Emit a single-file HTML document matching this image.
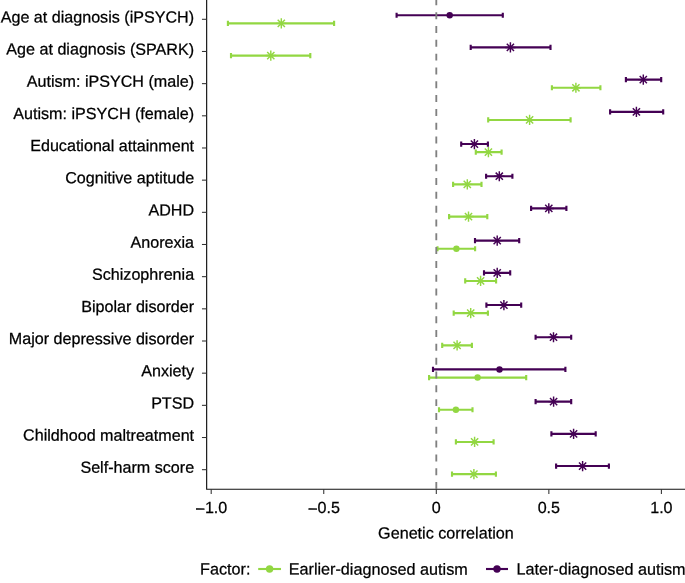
<!DOCTYPE html>
<html lang="en"><head><meta charset="utf-8"><title>Genetic correlation</title>
<style>
html,body{margin:0;padding:0;background:#fff;}
svg{display:block;will-change:transform;}
text{font-family:"Liberation Sans",Arial,Helvetica,sans-serif;font-size:16.13px;fill:#000;stroke:#000;stroke-width:0.25px;}
</style></head><body>
<svg width="685" height="583" viewBox="0 0 685 583">
<rect width="685" height="583" fill="#fff"/>
<path d="M206.65 0V489.2H685" stroke="#111" stroke-width="1.15" fill="none"/>
<line x1="201.95" x2="206.65" y1="19.30" y2="19.30" stroke="#333" stroke-width="1.07"/><text x="194.10" y="22.50" text-anchor="end" transform="rotate(0.03 194.10 22.50)">Age at diagnosis (iPSYCH)</text>
<line x1="201.95" x2="206.65" y1="51.47" y2="51.47" stroke="#333" stroke-width="1.07"/><text x="194.10" y="54.67" text-anchor="end" transform="rotate(0.03 194.10 54.67)">Age at diagnosis (SPARK)</text>
<line x1="201.95" x2="206.65" y1="83.64" y2="83.64" stroke="#333" stroke-width="1.07"/><text x="194.10" y="86.84" text-anchor="end" transform="rotate(0.03 194.10 86.84)">Autism: iPSYCH (male)</text>
<line x1="201.95" x2="206.65" y1="115.81" y2="115.81" stroke="#333" stroke-width="1.07"/><text x="194.10" y="119.01" text-anchor="end" transform="rotate(0.03 194.10 119.01)">Autism: iPSYCH (female)</text>
<line x1="201.95" x2="206.65" y1="147.98" y2="147.98" stroke="#333" stroke-width="1.07"/><text x="194.10" y="151.18" text-anchor="end" transform="rotate(0.03 194.10 151.18)">Educational attainment</text>
<line x1="201.95" x2="206.65" y1="180.15" y2="180.15" stroke="#333" stroke-width="1.07"/><text x="194.10" y="183.35" text-anchor="end" transform="rotate(0.03 194.10 183.35)">Cognitive aptitude</text>
<line x1="201.95" x2="206.65" y1="212.32" y2="212.32" stroke="#333" stroke-width="1.07"/><text x="194.10" y="215.52" text-anchor="end" transform="rotate(0.03 194.10 215.52)">ADHD</text>
<line x1="201.95" x2="206.65" y1="244.49" y2="244.49" stroke="#333" stroke-width="1.07"/><text x="194.10" y="247.69" text-anchor="end" transform="rotate(0.03 194.10 247.69)">Anorexia</text>
<line x1="201.95" x2="206.65" y1="276.66" y2="276.66" stroke="#333" stroke-width="1.07"/><text x="194.10" y="279.86" text-anchor="end" transform="rotate(0.03 194.10 279.86)">Schizophrenia</text>
<line x1="201.95" x2="206.65" y1="308.83" y2="308.83" stroke="#333" stroke-width="1.07"/><text x="194.10" y="312.03" text-anchor="end" transform="rotate(0.03 194.10 312.03)">Bipolar disorder</text>
<line x1="201.95" x2="206.65" y1="341.00" y2="341.00" stroke="#333" stroke-width="1.07"/><text x="194.10" y="344.20" text-anchor="end" transform="rotate(0.03 194.10 344.20)">Major depressive disorder</text>
<line x1="201.95" x2="206.65" y1="373.17" y2="373.17" stroke="#333" stroke-width="1.07"/><text x="194.10" y="376.37" text-anchor="end" transform="rotate(0.03 194.10 376.37)">Anxiety</text>
<line x1="201.95" x2="206.65" y1="405.34" y2="405.34" stroke="#333" stroke-width="1.07"/><text x="194.10" y="408.54" text-anchor="end" transform="rotate(0.03 194.10 408.54)">PTSD</text>
<line x1="201.95" x2="206.65" y1="437.51" y2="437.51" stroke="#333" stroke-width="1.07"/><text x="194.10" y="440.71" text-anchor="end" transform="rotate(0.03 194.10 440.71)">Childhood maltreatment</text>
<line x1="201.95" x2="206.65" y1="469.68" y2="469.68" stroke="#333" stroke-width="1.07"/><text x="194.10" y="472.88" text-anchor="end" transform="rotate(0.03 194.10 472.88)">Self-harm score</text>
<line x1="211.20" x2="211.20" y1="489.2" y2="493.9" stroke="#333" stroke-width="1.07"/><text x="211.20" y="513.10" text-anchor="middle" transform="rotate(0.03 211.20 513.10)"><tspan dx="0.6" dy="-0.45" style="font-size:14.4px;stroke-width:0.5px">–</tspan><tspan dx="0.6" dy="0.45">1.0</tspan></text>
<line x1="323.75" x2="323.75" y1="489.2" y2="493.9" stroke="#333" stroke-width="1.07"/><text x="323.75" y="513.10" text-anchor="middle" transform="rotate(0.03 323.75 513.10)"><tspan dx="0.6" dy="-0.45" style="font-size:14.4px;stroke-width:0.5px">–</tspan><tspan dx="0.6" dy="0.45">0.5</tspan></text>
<line x1="436.30" x2="436.30" y1="489.2" y2="493.9" stroke="#333" stroke-width="1.07"/><text x="436.30" y="513.10" text-anchor="middle" transform="rotate(0.03 436.30 513.10)">0</text>
<line x1="548.85" x2="548.85" y1="489.2" y2="493.9" stroke="#333" stroke-width="1.07"/><text x="548.85" y="513.10" text-anchor="middle" transform="rotate(0.03 548.85 513.10)">0.5</text>
<line x1="661.40" x2="661.40" y1="489.2" y2="493.9" stroke="#333" stroke-width="1.07"/><text x="661.40" y="513.10" text-anchor="middle" transform="rotate(0.03 661.40 513.10)">1.0</text>
<text x="445.90" y="538.60" text-anchor="middle" style="font-size:16.17px" transform="rotate(0.03 445.90 538.60)">Genetic correlation</text>
<path d="M227.90 23.37H334.10M227.90 20.77V25.97M334.10 20.77V25.97" stroke="#92D742" stroke-width="2.13" fill="none"/><path d="M276.20 23.37H286.40M281.30 18.27V28.47M277.69 19.76L284.91 26.98M277.69 26.98L284.91 19.76" stroke="#92D742" stroke-width="1.45" fill="none"/><path d="M396.60 15.23H502.80M396.60 12.63V17.83M502.80 12.63V17.83" stroke="#440154" stroke-width="2.13" fill="none"/><circle cx="449.70" cy="15.23" r="3.2" fill="#440154"/>
<path d="M231.00 55.57H310.30M231.00 52.97V58.17M310.30 52.97V58.17" stroke="#92D742" stroke-width="2.13" fill="none"/><path d="M265.70 55.57H275.90M270.80 50.47V60.67M267.19 51.96L274.41 59.18M267.19 59.18L274.41 51.96" stroke="#92D742" stroke-width="1.45" fill="none"/><path d="M470.70 47.43H550.50M470.70 44.83V50.03M550.50 44.83V50.03" stroke="#440154" stroke-width="2.13" fill="none"/><path d="M505.30 47.43H515.50M510.40 42.33V52.53M506.79 43.82L514.01 51.04M506.79 51.04L514.01 43.82" stroke="#440154" stroke-width="1.45" fill="none"/>
<path d="M551.90 87.77H600.40M551.90 85.17V90.37M600.40 85.17V90.37" stroke="#92D742" stroke-width="2.13" fill="none"/><path d="M570.80 87.77H581.00M575.90 82.67V92.87M572.29 84.16L579.51 91.38M572.29 91.38L579.51 84.16" stroke="#92D742" stroke-width="1.45" fill="none"/><path d="M625.90 79.63H661.20M625.90 77.03V82.23M661.20 77.03V82.23" stroke="#440154" stroke-width="2.13" fill="none"/><path d="M638.20 79.63H648.40M643.30 74.53V84.73M639.69 76.02L646.91 83.24M639.69 83.24L646.91 76.02" stroke="#440154" stroke-width="1.45" fill="none"/>
<path d="M488.20 119.97H570.60M488.20 117.37V122.57M570.60 117.37V122.57" stroke="#92D742" stroke-width="2.13" fill="none"/><path d="M524.50 119.97H534.70M529.60 114.87V125.07M525.99 116.36L533.21 123.58M525.99 123.58L533.21 116.36" stroke="#92D742" stroke-width="1.45" fill="none"/><path d="M610.10 111.83H663.20M610.10 109.23V114.43M663.20 109.23V114.43" stroke="#440154" stroke-width="2.13" fill="none"/><path d="M631.30 111.83H641.50M636.40 106.73V116.93M632.79 108.22L640.01 115.44M632.79 115.44L640.01 108.22" stroke="#440154" stroke-width="1.45" fill="none"/>
<path d="M475.80 152.17H501.60M475.80 149.57V154.77M501.60 149.57V154.77" stroke="#92D742" stroke-width="2.13" fill="none"/><path d="M483.30 152.17H493.50M488.40 147.07V157.27M484.79 148.56L492.01 155.78M484.79 155.78L492.01 148.56" stroke="#92D742" stroke-width="1.45" fill="none"/><path d="M461.20 144.03H487.90M461.20 141.43V146.63M487.90 141.43V146.63" stroke="#440154" stroke-width="2.13" fill="none"/><path d="M469.30 144.03H479.50M474.40 138.93V149.13M470.79 140.42L478.01 147.64M470.79 147.64L478.01 140.42" stroke="#440154" stroke-width="1.45" fill="none"/>
<path d="M453.10 184.37H481.50M453.10 181.77V186.97M481.50 181.77V186.97" stroke="#92D742" stroke-width="2.13" fill="none"/><path d="M462.20 184.37H472.40M467.30 179.27V189.47M463.69 180.76L470.91 187.98M463.69 187.98L470.91 180.76" stroke="#92D742" stroke-width="1.45" fill="none"/><path d="M486.10 176.23H512.40M486.10 173.63V178.83M512.40 173.63V178.83" stroke="#440154" stroke-width="2.13" fill="none"/><path d="M494.20 176.23H504.40M499.30 171.13V181.33M495.69 172.62L502.91 179.84M495.69 179.84L502.91 172.62" stroke="#440154" stroke-width="1.45" fill="none"/>
<path d="M449.10 216.57H487.30M449.10 213.97V219.17M487.30 213.97V219.17" stroke="#92D742" stroke-width="2.13" fill="none"/><path d="M463.40 216.57H473.60M468.50 211.47V221.67M464.89 212.96L472.11 220.18M464.89 220.18L472.11 212.96" stroke="#92D742" stroke-width="1.45" fill="none"/><path d="M531.10 208.43H566.40M531.10 205.83V211.03M566.40 205.83V211.03" stroke="#440154" stroke-width="2.13" fill="none"/><path d="M543.70 208.43H553.90M548.80 203.33V213.53M545.19 204.82L552.41 212.04M545.19 212.04L552.41 204.82" stroke="#440154" stroke-width="1.45" fill="none"/>
<path d="M437.50 248.77H475.10M437.50 246.17V251.37M475.10 246.17V251.37" stroke="#92D742" stroke-width="2.13" fill="none"/><circle cx="456.40" cy="248.77" r="3.2" fill="#92D742"/><path d="M475.00 240.63H519.20M475.00 238.03V243.23M519.20 238.03V243.23" stroke="#440154" stroke-width="2.13" fill="none"/><path d="M492.10 240.63H502.30M497.20 235.53V245.73M493.59 237.02L500.81 244.24M493.59 244.24L500.81 237.02" stroke="#440154" stroke-width="1.45" fill="none"/>
<path d="M465.20 280.97H496.10M465.20 278.37V283.57M496.10 278.37V283.57" stroke="#92D742" stroke-width="2.13" fill="none"/><path d="M475.50 280.97H485.70M480.60 275.87V286.07M476.99 277.36L484.21 284.58M476.99 284.58L484.21 277.36" stroke="#92D742" stroke-width="1.45" fill="none"/><path d="M484.00 272.83H510.20M484.00 270.23V275.43M510.20 270.23V275.43" stroke="#440154" stroke-width="2.13" fill="none"/><path d="M492.10 272.83H502.30M497.20 267.73V277.93M493.59 269.22L500.81 276.44M493.59 276.44L500.81 269.22" stroke="#440154" stroke-width="1.45" fill="none"/>
<path d="M453.70 313.17H487.90M453.70 310.57V315.77M487.90 310.57V315.77" stroke="#92D742" stroke-width="2.13" fill="none"/><path d="M465.60 313.17H475.80M470.70 308.07V318.27M467.09 309.56L474.31 316.78M467.09 316.78L474.31 309.56" stroke="#92D742" stroke-width="1.45" fill="none"/><path d="M486.40 305.03H521.20M486.40 302.43V307.63M521.20 302.43V307.63" stroke="#440154" stroke-width="2.13" fill="none"/><path d="M498.80 305.03H509.00M503.90 299.93V310.13M500.29 301.42L507.51 308.64M500.29 308.64L507.51 301.42" stroke="#440154" stroke-width="1.45" fill="none"/>
<path d="M442.20 345.37H471.90M442.20 342.77V347.97M471.90 342.77V347.97" stroke="#92D742" stroke-width="2.13" fill="none"/><path d="M452.00 345.37H462.20M457.10 340.27V350.47M453.49 341.76L460.71 348.98M453.49 348.98L460.71 341.76" stroke="#92D742" stroke-width="1.45" fill="none"/><path d="M535.60 337.23H571.20M535.60 334.63V339.83M571.20 334.63V339.83" stroke="#440154" stroke-width="2.13" fill="none"/><path d="M548.40 337.23H558.60M553.50 332.13V342.33M549.89 333.62L557.11 340.84M549.89 340.84L557.11 333.62" stroke="#440154" stroke-width="1.45" fill="none"/>
<path d="M429.10 377.57H526.20M429.10 374.97V380.17M526.20 374.97V380.17" stroke="#92D742" stroke-width="2.13" fill="none"/><circle cx="477.60" cy="377.57" r="3.2" fill="#92D742"/><path d="M433.00 369.43H565.40M433.00 366.83V372.03M565.40 366.83V372.03" stroke="#440154" stroke-width="2.13" fill="none"/><circle cx="499.50" cy="369.43" r="3.2" fill="#440154"/>
<path d="M439.00 409.77H472.50M439.00 407.17V412.37M472.50 407.17V412.37" stroke="#92D742" stroke-width="2.13" fill="none"/><circle cx="455.90" cy="409.77" r="3.2" fill="#92D742"/><path d="M535.60 401.63H571.20M535.60 399.03V404.23M571.20 399.03V404.23" stroke="#440154" stroke-width="2.13" fill="none"/><path d="M548.50 401.63H558.70M553.60 396.53V406.73M549.99 398.02L557.21 405.24M549.99 405.24L557.21 398.02" stroke="#440154" stroke-width="1.45" fill="none"/>
<path d="M455.90 441.97H493.60M455.90 439.37V444.57M493.60 439.37V444.57" stroke="#92D742" stroke-width="2.13" fill="none"/><path d="M469.50 441.97H479.70M474.60 436.87V447.07M470.99 438.36L478.21 445.58M470.99 445.58L478.21 438.36" stroke="#92D742" stroke-width="1.45" fill="none"/><path d="M551.40 433.83H595.70M551.40 431.23V436.43M595.70 431.23V436.43" stroke="#440154" stroke-width="2.13" fill="none"/><path d="M568.50 433.83H578.70M573.60 428.73V438.93M569.99 430.22L577.21 437.44M569.99 437.44L577.21 430.22" stroke="#440154" stroke-width="1.45" fill="none"/>
<path d="M452.00 474.17H495.90M452.00 471.57V476.77M495.90 471.57V476.77" stroke="#92D742" stroke-width="2.13" fill="none"/><path d="M468.80 474.17H479.00M473.90 469.07V479.27M470.29 470.56L477.51 477.78M470.29 477.78L477.51 470.56" stroke="#92D742" stroke-width="1.45" fill="none"/><path d="M556.10 466.03H608.90M556.10 463.43V468.63M608.90 463.43V468.63" stroke="#440154" stroke-width="2.13" fill="none"/><path d="M577.50 466.03H587.70M582.60 460.93V471.13M578.99 462.42L586.21 469.64M578.99 469.64L586.21 462.42" stroke="#440154" stroke-width="1.45" fill="none"/>
<line x1="436.3" x2="436.3" y1="-1.65" y2="489.2" stroke="#808080" stroke-width="1.85" stroke-dasharray="6.98 6.84"/>
<text x="200.00" y="574.60" style="font-size:16.2px" transform="rotate(0.03 200.00 574.60)">Factor:</text>
<line x1="258.2" x2="281" y1="569.0" y2="569.0" stroke="#92D742" stroke-width="2.13"/><circle cx="269.60" cy="569.00" r="3.7" fill="#92D742"/>
<text x="288.70" y="574.60" style="font-size:16.2px" transform="rotate(0.03 288.70 574.60)">Earlier-diagnosed autism</text>
<line x1="486" x2="508" y1="569.0" y2="569.0" stroke="#440154" stroke-width="2.13"/><circle cx="497.00" cy="569.00" r="3.7" fill="#440154"/>
<text x="516.40" y="574.60" style="font-size:16.2px" transform="rotate(0.03 516.40 574.60)">Later-diagnosed autism</text>
</svg>
</body></html>
